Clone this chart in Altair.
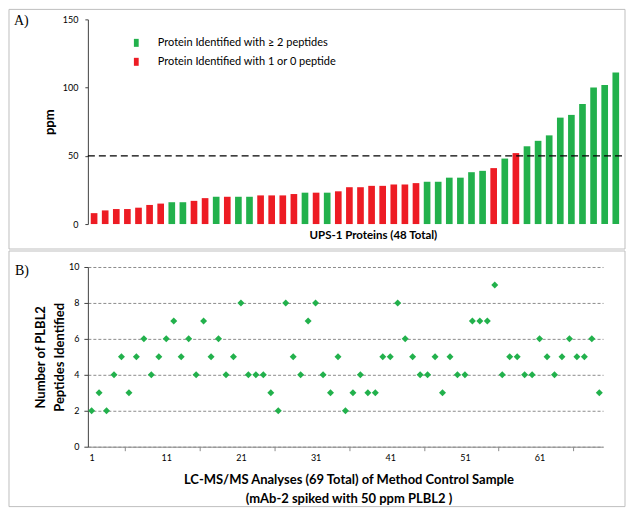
import altair as alt
import pandas as pd

# ---------------- data ----------------
ups_ppm = [8, 10, 11, 11, 12, 14, 15, 16, 16, 17, 19, 20, 20, 20, 20, 21,
           21, 21, 22, 23, 23, 23, 24, 27, 27, 28, 28, 29, 29, 30, 31, 31,
           34, 34, 38, 39, 41, 48, 52, 57, 61, 65, 78, 80, 88, 100, 102, 111]
ups_group = ["R", "R", "R", "R", "R", "R", "R", "G", "G", "R", "R", "G", "R", "G", "G", "R",
             "R", "R", "R", "G", "R", "G", "R", "R", "R", "R", "R", "R", "R", "R", "G", "G",
             "G", "G", "G", "G", "R", "G", "R", "G", "G", "G", "G", "G", "G", "G", "G", "G"]
legend_labels = ["Protein Identified with \u2265 2 peptides",
                 "Protein Identified with 1 or 0 peptide"]
threshold_ppm = [50]
ppm_ticks = [0, 50, 100, 150]

run_peptides = [2, 3, 2, 4, 5, 3, 5, 6, 4, 5, 6, 7, 5, 6, 4, 7, 5, 6, 4, 5, 8, 4, 4, 4, 3,
                2, 8, 5, 4, 7, 8, 4, 3, 5, 2, 3, 4, 3, 3, 5, 5, 8, 6, 5, 4, 4, 5, 3, 5, 4,
                4, 7, 7, 7, 9, 4, 5, 5, 4, 4, 6, 5, 4, 5, 6, 5, 5, 6, 3]
run_label_values = [1, 11, 21, 31, 41, 51, 61]
run_tick_values = [5.5, 15.5, 25.5, 35.5, 45.5, 55.5, 65.5]
peptide_ticks = [0, 2, 4, 6, 8, 10]

GREEN = "#22B14C"
RED = "#ED1C24"
FONT = "Lato"
SERIF = "Liberation Serif"
BORDER = "#BFBFBF"

dfA = pd.DataFrame({
    "protein": list(range(1, len(ups_ppm) + 1)),
    "ppm": ups_ppm,
    "group": [legend_labels[0] if g == "G" else legend_labels[1] for g in ups_group],
})
dfB = pd.DataFrame({"run": list(range(1, len(run_peptides) + 1)), "peptides": run_peptides})
one = pd.DataFrame({"k": [0]})

WA, HA = 535, 205
WB, HB = 516, 180

# ---------------- panel A ----------------
bars = alt.Chart(dfA).mark_bar().encode(
    x=alt.X("protein:O",
            scale=alt.Scale(paddingInner=0.4, paddingOuter=0.26),
            axis=alt.Axis(labels=False, ticks=False, domain=False,
                          title="UPS-1 Proteins (48 Total)", titleFont=FONT,
                          titleFontSize=11.5, titleFontWeight="bold", titleColor="black",
                          titleX=WA / 2 + 18, titleY=11, titleAlign="center",
                          titleBaseline="middle")),
    y=alt.Y("ppm:Q",
            scale=alt.Scale(domain=[0, 150], nice=False),
            axis=alt.Axis(values=ppm_ticks, grid=False, tickSize=3, labelPadding=7,
                          labelFont=FONT, labelFontSize=9, labelColor="black",
                          domainColor="#404040", tickColor="#404040",
                          title="ppm", titleFont=FONT, titleFontSize=13,
                          titleFontWeight="bold", titleColor="black",
                          titleX=-38, titleY=HA / 2, titleAngle=270,
                          titleBaseline="middle")),
    color=alt.Color("group:N",
                    scale=alt.Scale(domain=legend_labels, range=[GREEN, RED]),
                    legend=alt.Legend(title=None, orient="none", legendX=43, legendY=18,
                                      symbolType="M-0.6,-1H0.6V1H-0.6Z", symbolSize=64,
                                      symbolStrokeWidth=0, symbolOpacity=1,
                                      labelFont=FONT, labelFontSize=11, labelColor="black",
                                      labelLimit=400, labelOffset=16, rowPadding=7,
                                      padding=0)),
)

thr = alt.Chart(pd.DataFrame({"t": threshold_ppm})).mark_rule(
    color="black", strokeDash=[7, 4], strokeWidth=1.2
).encode(y="t:Q")

boxA = alt.Chart(one).mark_rect(filled=False, color=BORDER, strokeWidth=1).encode(
    x=alt.value(-79), x2=alt.value(WA + 3), y=alt.value(-10), y2=alt.value(HA + 25))

labA = alt.Chart(one).mark_text(text="A)", font=SERIF, fontSize=14, align="left",
                                baseline="middle", color="black").encode(
    x=alt.value(-74), y=alt.value(2))

panelA = alt.layer(boxA, bars, thr, labA).properties(width=WA, height=HA)

# ---------------- panel B ----------------
x_vals = sorted(run_label_values + run_tick_values)
points = alt.Chart(dfB).mark_point(shape="diamond", filled=True, size=49, color=GREEN,
                                   opacity=1).encode(
    x=alt.X("run:Q",
            scale=alt.Scale(domain=[0.5, 69.5], nice=False, zero=False),
            axis=alt.Axis(values=x_vals, grid=False,
                          labelExpr="datum.value % 1 === 0 ? datum.label : ''",
                          labelOverlap=False, labelFlush=False,
                          tickOpacity={"condition": {"test": "datum.value % 1 === 0", "value": 0},
                                       "value": 1},
                          tickSize=4, labelPadding=3, labelFont=FONT, labelFontSize=9,
                          labelColor="black", domainColor="#8C8C8C", tickColor="#8C8C8C",
                          title=["LC-MS/MS Analyses (69 Total) of Method Control Sample",
                                 "(mAb-2 spiked with 50 ppm PLBL2 )"],
                          titleFont=FONT, titleFontSize=13, titleFontWeight="bold",
                          titleColor="black", titleLineHeight=18.5,
                          titleX=WB / 2 + 3, titleY=33, titleBaseline="middle")),
    y=alt.Y("peptides:Q",
            scale=alt.Scale(domain=[0, 10], nice=False),
            axis=alt.Axis(values=peptide_ticks, grid=True, gridDash=[3, 2],
                          gridColor="#6E6E6E", gridWidth=0.8,
                          tickSize=4, labelPadding=5, labelFont=FONT, labelFontSize=9,
                          labelColor="black", domainColor="#404040", tickColor="#404040",
                          title=["Number of PLBL2", "Peptides Identified"],
                          titleFont=FONT, titleFontSize=13, titleFontWeight="bold",
                          titleColor="black", titleLineHeight=19,
                          titleX=-47, titleY=HB / 2, titleAngle=270,
                          titleBaseline="middle")),
)

boxB = alt.Chart(one).mark_rect(filled=False, color=BORDER, strokeWidth=1).encode(
    x=alt.value(-79), x2=alt.value(WB + 22), y=alt.value(-16), y2=alt.value(HB + 60))

labB = alt.Chart(one).mark_text(text="B)", font=SERIF, fontSize=14, align="left",
                                baseline="middle", color="black").encode(
    x=alt.value(-73), y=alt.value(4))

panelB = alt.layer(boxB, points, labB).properties(width=WB, height=HB)

chart = alt.vconcat(panelA, panelB, spacing=0).properties(
    padding=0, background="white"
).configure_view(strokeWidth=0)

chart.save("out.html", embed_options={"renderer": "svg", "actions": False})
